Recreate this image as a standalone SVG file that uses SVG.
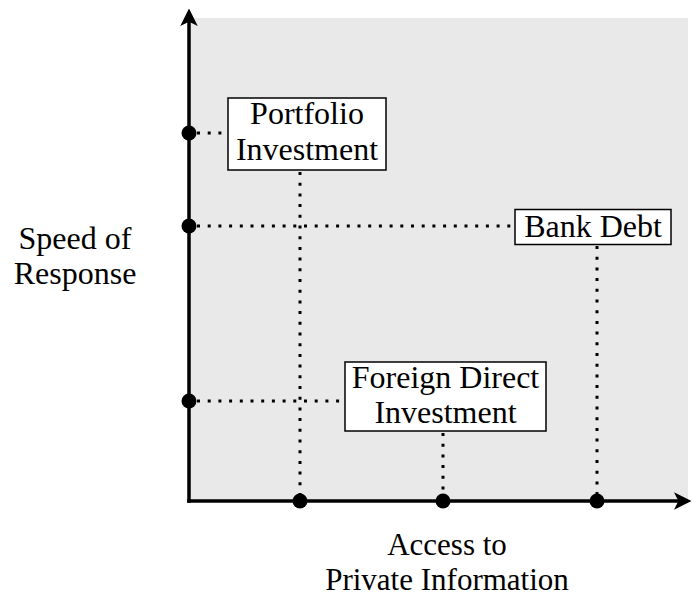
<svg xmlns="http://www.w3.org/2000/svg" width="692" height="599" viewBox="0 0 692 599">
  <style>
    .lbl { font-family: "Liberation Serif", "Times New Roman", serif; font-size: 32px; fill: #000; text-anchor: middle; }
    .axlbl { font-size: 31px; }
    .box { fill: #fff; stroke: #000; stroke-width: 1.5; }
    .dots { fill: none; stroke: #000; stroke-width: 3; stroke-dasharray: 3 7.7; }
    .axis { fill: none; stroke: #000; stroke-width: 3.5; }
    .pt { fill: #000; }
  </style>
  <defs>
    <marker id="arrowhead" viewBox="0 0 10 10" refX="8" refY="5" markerWidth="5" markerHeight="5" orient="auto" markerUnits="strokeWidth">
      <path d="M0,0 L10,5 L0,10 L2.5,5 Z" fill="#000"/>
    </marker>
  </defs>

  <!-- plot area -->
  <rect x="189" y="18" width="499" height="483" fill="#e9e9e9"/>

  <!-- guide lines -->
  <g id="connectors">
    <line class="dots" x1="197" y1="133" x2="228" y2="133"/>
    <line class="dots" x1="197" y1="226" x2="515" y2="226"/>
    <line class="dots" x1="197" y1="401" x2="345" y2="401"/>
    <line class="dots" x1="300" y1="172" x2="300" y2="494"/>
    <line class="dots" x1="443" y1="433" x2="443" y2="494"/>
    <line class="dots" x1="597" y1="246" x2="597" y2="494"/>
  </g>

  <!-- axes -->
  <g id="axes">
    <line class="axis" x1="189" y1="502.7" x2="189" y2="12" marker-end="url(#arrowhead)"/>
    <line class="axis" x1="187.3" y1="501" x2="688" y2="501" marker-end="url(#arrowhead)"/>
    <circle class="pt" cx="189" cy="133" r="7.5"/>
    <circle class="pt" cx="189" cy="226" r="7.5"/>
    <circle class="pt" cx="189" cy="401" r="7.5"/>
    <circle class="pt" cx="300" cy="501" r="7.5"/>
    <circle class="pt" cx="443" cy="501" r="7.5"/>
    <circle class="pt" cx="597" cy="501" r="7.5"/>
  </g>

  <g id="portfolio">
    <rect class="box" x="228" y="98" width="158" height="72"/>
    <text class="lbl" x="307" y="124">Portfolio</text>
    <text class="lbl" x="307" y="160">Investment</text>
  </g>

  <g id="bank-debt">
    <rect class="box" x="515" y="209.5" width="156" height="35"/>
    <text class="lbl" x="593" y="237">Bank Debt</text>
  </g>

  <g id="fdi">
    <rect class="box" x="345" y="362" width="201" height="69"/>
    <text class="lbl" x="445.5" y="388">Foreign Direct</text>
    <text class="lbl" x="445.5" y="423">Investment</text>
  </g>

  <g id="y-label">
    <text class="lbl" x="75" y="249">Speed of</text>
    <text class="lbl" x="75" y="284">Response</text>
  </g>

  <g id="x-label">
    <text class="lbl axlbl" x="447" y="555">Access to</text>
    <text class="lbl axlbl" x="447" y="590">Private Information</text>
  </g>
</svg>
